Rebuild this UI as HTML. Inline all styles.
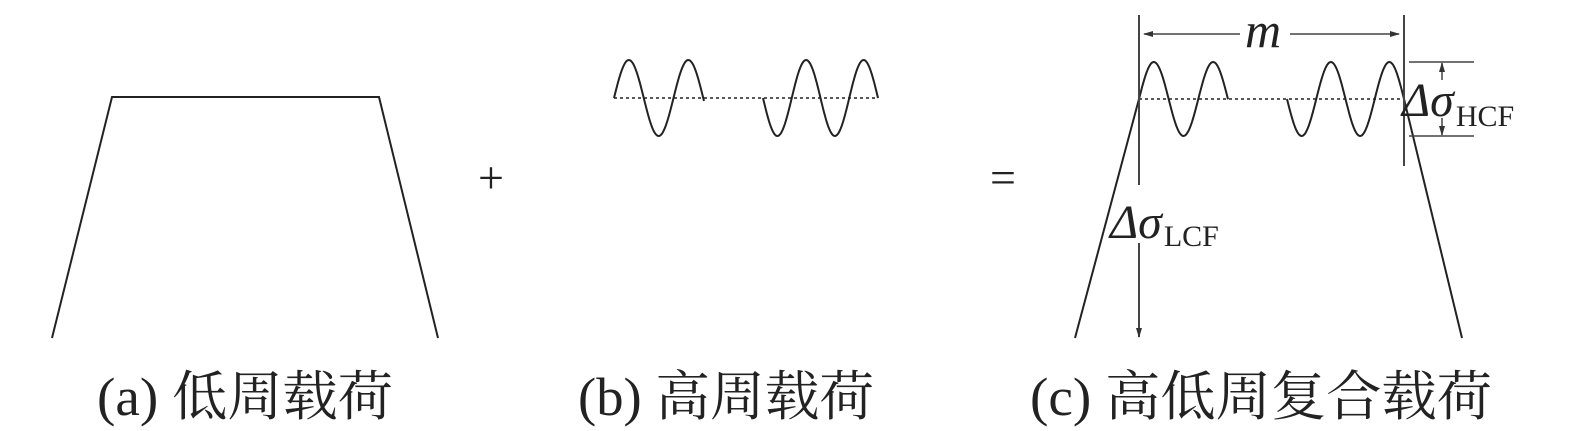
<!DOCTYPE html>
<html><head><meta charset="utf-8"><style>
html,body{margin:0;padding:0;background:#fff;}
svg{display:block;}
.t{font-family:"Liberation Serif","Noto Serif CJK SC",serif;fill:#222;}
</style></head><body>
<svg id="s" width="1575" height="431" viewBox="0 0 1575 431" xmlns="http://www.w3.org/2000/svg">
<defs>
<marker id="ar" markerWidth="10" markerHeight="8" refX="9" refY="4" orient="auto" markerUnits="userSpaceOnUse">
<path d="M0,1 L10,4 L0,7 Z" fill="#333"/></marker>
</defs>
<g stroke="#222" stroke-width="2" fill="none">
<polyline points="52,338 112,97 379,97 438,338"/>
<path id="w1"/><path id="w2"/><path id="w3"/><path id="w4"/>
<line x1="614" y1="98" x2="878" y2="98" stroke-dasharray="3,3" stroke-width="1.6"/>
<line x1="1139" y1="99" x2="1404" y2="99" stroke-dasharray="3,3" stroke-width="1.6"/>
<line x1="1075" y1="338" x2="1139" y2="99"/>
<line x1="1404" y1="99" x2="1462" y2="338"/>
<line x1="1139" y1="15" x2="1139" y2="185" stroke="#444"/>
<line x1="1139" y1="243" x2="1139" y2="337" stroke="#444" marker-end="url(#ar)"/>
<line x1="1404" y1="15" x2="1404" y2="166" stroke="#444"/>
<line x1="1240" y1="34" x2="1144" y2="34" stroke="#444" stroke-width="1.5" marker-end="url(#ar)"/>
<line x1="1290" y1="34" x2="1399" y2="34" stroke="#444" stroke-width="1.5" marker-end="url(#ar)"/>
<line x1="1409" y1="62" x2="1474" y2="62" stroke="#444" stroke-width="1.5"/>
<line x1="1409" y1="136" x2="1474" y2="136" stroke="#444" stroke-width="1.5"/>
<line x1="1442" y1="80" x2="1442" y2="63" stroke="#444" stroke-width="1.5" marker-end="url(#ar)"/>
<line x1="1442" y1="118" x2="1442" y2="135" stroke="#444" stroke-width="1.5" marker-end="url(#ar)"/>
</g>
<text class="t" x="478" y="193" font-size="46">+</text>
<text class="t" x="990" y="193" font-size="46">=</text>
<text class="t" x="1245" y="47" font-size="50" font-style="italic">m</text>
<text class="t" x="1402" y="116" font-size="48" font-style="italic">Δσ<tspan font-size="30" font-style="normal" dx="2" dy="10">HCF</tspan></text>
<text class="t" x="1110" y="238" font-size="48" font-style="italic">Δσ<tspan font-size="30" font-style="normal" dx="2" dy="8">LCF</tspan></text>
<text class="t" x="97" y="415" font-size="54" textLength="296" lengthAdjust="spacingAndGlyphs">(a) 低周载荷</text>
<text class="t" x="578" y="415" font-size="54" textLength="296" lengthAdjust="spacingAndGlyphs">(b) 高周载荷</text>
<text class="t" x="1030" y="415" font-size="54" textLength="462" lengthAdjust="spacingAndGlyphs">(c) 高低周复合载荷</text>
</svg>
<script>
function w(id,x0,x1,base,amp,per,sign){
 var d="";for(var x=x0;x<=x1+0.01;x+=1){var y=base-sign*amp*Math.sin(2*Math.PI*(x-x0)/per);d+=(d?"L":"M")+x.toFixed(1)+","+y.toFixed(1);}
 document.getElementById(id).setAttribute("d",d);}
w("w1",614,704,98,38,59.5,1);
w("w2",763,878,98,38,57.5,-1);
w("w3",1139,1228,99,37,59.3,1);
w("w4",1287,1404,99,37,58.5,-1);
</script>
</body></html>
